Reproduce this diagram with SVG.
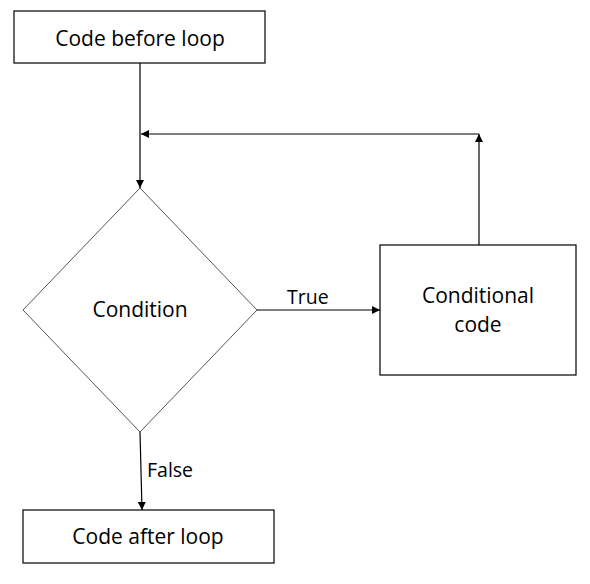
<svg xmlns="http://www.w3.org/2000/svg" width="590" height="584" viewBox="0 0 590 584">
<style>
.box{fill:#fff;stroke:#000;stroke-width:1.2}
.dia{fill:#fff;stroke:#555;stroke-width:1}
.t{font-family:"Open Sans","Liberation Sans",sans-serif;font-size:21px;fill:#000;text-anchor:middle}
.lbl{font-family:"Open Sans","Liberation Sans",sans-serif;font-size:19.5px;fill:#000}
.c{fill:none;stroke:#000;stroke-width:1.2}
</style>
<defs>
<marker id="ah" viewBox="0 0 10 10" refX="10" refY="5" markerWidth="8" markerHeight="8" markerUnits="userSpaceOnUse" orient="auto">
<path d="M0,0 L10,5 L0,10 z" fill="#000"/>
</marker>
</defs>
<g id="connectors">
<line class="c" x1="140" y1="63" x2="140" y2="188" marker-end="url(#ah)"/>
<polyline class="c" points="479,245 479,134" marker-end="url(#ah)"/>
<line class="c" x1="479" y1="134" x2="141" y2="134" marker-end="url(#ah)"/>
<line class="c" x1="257" y1="310" x2="380" y2="310" marker-end="url(#ah)"/>
<line class="c" x1="140" y1="432" x2="142" y2="510" marker-end="url(#ah)"/>
<text class="lbl" x="287" y="304">True</text>
<text class="lbl" x="147" y="477">False</text>
</g>
<g id="before">
<rect class="box" x="14" y="11" width="251" height="52"/>
<text class="t" x="140" y="46">Code before loop</text>
</g>
<g id="condition">
<polygon class="dia" points="140,188 257,310 140,432 23,310"/>
<text class="t" x="140" y="317">Condition</text>
</g>
<g id="conditional">
<rect class="box" x="380" y="245" width="196" height="130"/>
<text class="t" x="478" y="303">Conditional</text>
<text class="t" x="478" y="332">code</text>
</g>
<g id="after">
<rect class="box" x="23" y="510" width="251" height="53"/>
<text class="t" x="148" y="544">Code after loop</text>
</g>
</svg>
